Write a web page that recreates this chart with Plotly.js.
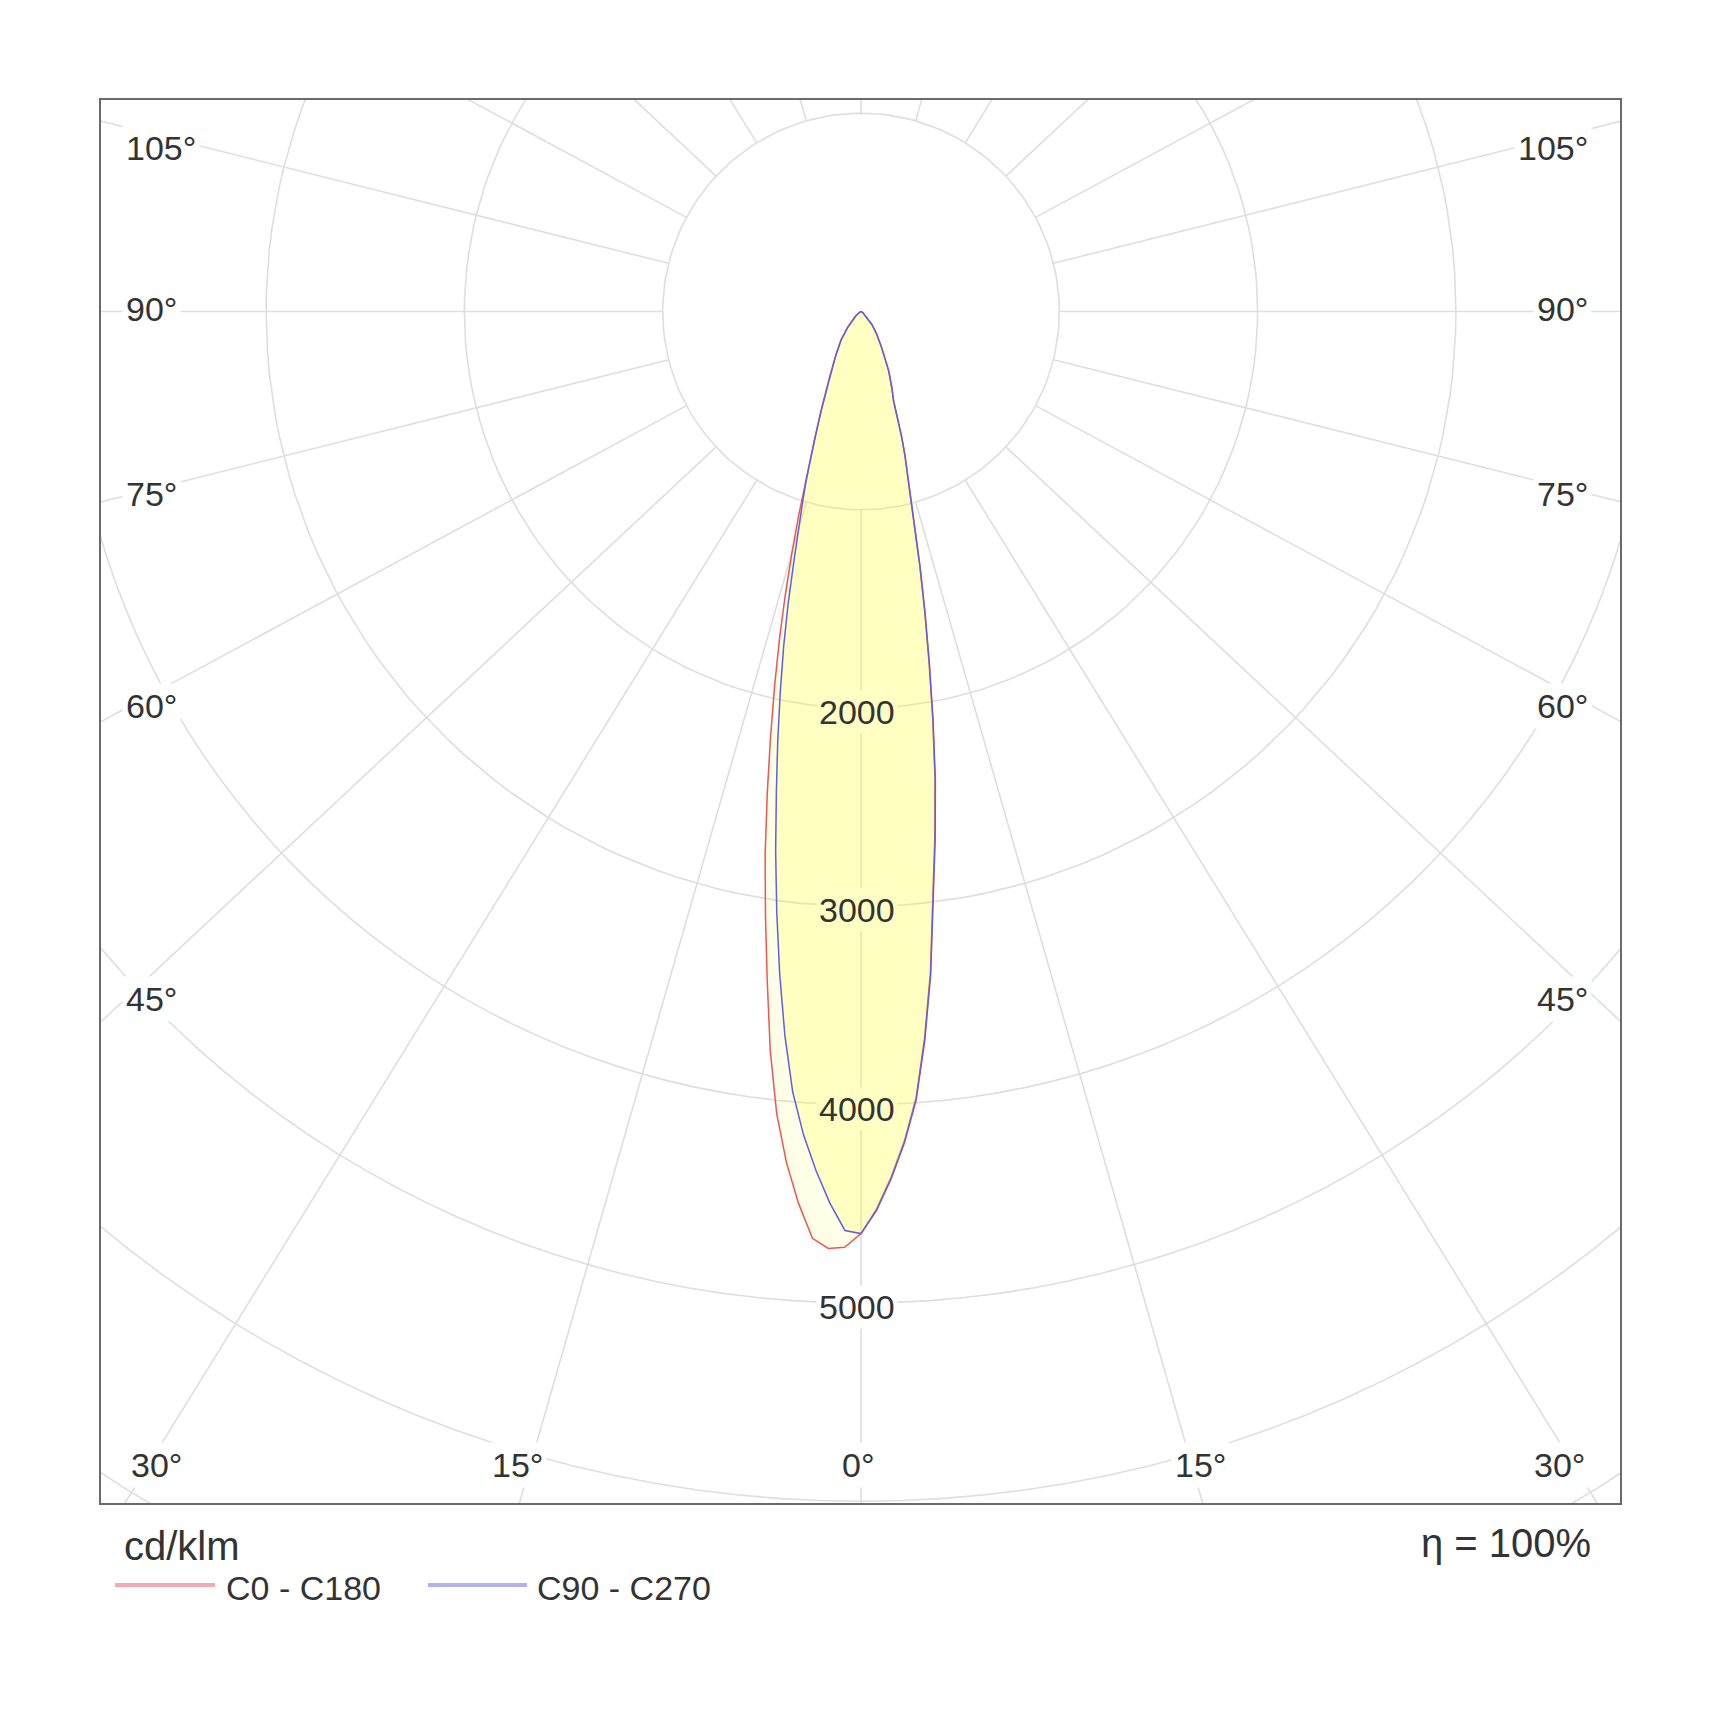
<!DOCTYPE html>
<html>
<head>
<meta charset="utf-8">
<script src="https://cdn.plot.ly/plotly-3.0.1.min.js"></script>
<style>
  body { margin: 0; background: #fff; }
  #chart { width: 1720px; height: 1720px; }
</style>
</head>
<body>
<div id="chart"></div>
<script>
// photometric polar diagram, cd/klm, gamma measured from the downward axis
var gammaDeg = [0, 1, 2, 3, 4, 5, 6, 7, 8, 9, 10, 11, 12, 13, 14, 15, 16, 17, 18, 20, 22, 25, 30, 35, 40, 50, 60, 70, 80, 90]

// C0 - C180 plane (C180 drawn on the left)
var c180 = [4650, 4720, 4728, 4680, 4510, 4310, 4067, 3755, 3400, 3080, 2785, 2478, 2195, 1936, 1698, 1471, 1260, 1074, 919, 680, 535, 385, 255, 176, 105, 35, 10, 0, 0, 0]
var c0 = [4650, 4526, 4367, 4188, 3977, 3678, 3349, 2982, 2674, 2385, 2082, 1796, 1545, 1320, 1109, 945, 850, 755, 660, 480, 415, 330, 205, 135, 85, 30, 10, 0, 0, 0]

// C90 - C270 plane (C270 drawn on the left)
var c270 = [4650, 4635, 4499, 4338, 4161, 3951, 3672, 3365, 3054, 2752, 2458, 2200, 1957, 1735, 1520, 1312, 1150, 1010, 895, 680, 530, 380, 252, 174, 103, 35, 10, 0, 0, 0]
var c90 = [4650, 4532, 4375, 4196, 3986, 3690, 3362, 2995, 2688, 2398, 2094, 1806, 1553, 1327, 1114, 950, 853, 758, 662, 481, 416, 331, 206, 136, 85, 30, 10, 0, 0, 0]

var ringValues = [1000, 2000, 3000, 4000, 5000, 6000, 7000]
var ringLabelValues = [2000, 3000, 4000, 5000]
var spokeAngles = [0, 15, 30, 45, 60, 75, 90, 105, 120, 135, 150, 165, 180]
var sideLabels = ['105°', '90°', '75°', '60°', '45°']
var bottomLabels = ['30°', '15°', '0°', '15°', '30°']
var planeNames = ['C0 - C180', 'C90 - C270']

var d2r = Math.PI / 180
var stretch = 1.07   // the spokes of the source drawing are a bit flattened sideways

// pixel helpers, only used to put the text where it sits in the picture
var CX = 861, CY = 311.5, PXU = 0.1983
function px2x(px) { return (px - CX) / PXU }
function py2y(py) { return (CY - py) / PXU }
function pxp(px) { return (px - 101) / 1519 }
function pyp(py) { return (1503 - py) / 1403 }

function planeXY(left, right) {
    var x = [], y = []
    for (var i = gammaDeg.length - 1; i >= 0; i--) {
        x.push(-left[i] * Math.sin(gammaDeg[i] * d2r))
        y.push(-left[i] * Math.cos(gammaDeg[i] * d2r))
    }
    for (var j = 1; j < gammaDeg.length; j++) {
        x.push(right[j] * Math.sin(gammaDeg[j] * d2r))
        y.push(-right[j] * Math.cos(gammaDeg[j] * d2r))
    }
    return { x: x, y: y }
}

// grid: circles + spokes starting on the first ring
var gx = [], gy = []
ringValues.forEach(function (r) {
    for (var a = 0; a <= 360; a += 2) {
        gx.push(r * Math.sin(a * d2r))
        gy.push(r * Math.cos(a * d2r))
    }
    gx.push(null); gy.push(null)
})
spokeAngles.forEach(function (phi) {
    var sides = (phi == 0 || phi == 180) ? [1] : [-1, 1]
    sides.forEach(function (s) {
        var dx = s * stretch * Math.sin(phi * d2r)
        var dy = -Math.cos(phi * d2r)
        var n = Math.sqrt(dx * dx + dy * dy)
        dx = dx / n; dy = dy / n
        gx.push(ringValues[0] * dx, 10000 * dx, null)
        gy.push(ringValues[0] * dy, 10000 * dy, null)
    })
})

var redPlane = planeXY(c180, c0)
var bluePlane = planeXY(c270, c90)

var traces = [
    { x: gx, y: gy, mode: 'lines', line: { color: '#dedede', width: 1.6 }, hoverinfo: 'skip', showlegend: false },
    {
        x: redPlane.x, y: redPlane.y, mode: 'lines', name: planeNames[0], fill: 'toself',
        fillcolor: 'rgba(255,255,0,0.09)', line: { color: 'rgb(238,85,85)', width: 1.5 }
    },
    {
        x: bluePlane.x, y: bluePlane.y, mode: 'lines', name: planeNames[1], fill: 'toself',
        fillcolor: 'rgba(255,255,0,0.16)', line: { color: 'rgb(95,95,228)', width: 1.5 }
    }
]

var labelFont = { family: 'Liberation Sans, Arial, sans-serif', size: 34, color: '#333' }
var bigFont = { family: 'Liberation Sans, Arial, sans-serif', size: 40, color: '#333' }

var annotations = []
var sideY = [148, 309, 494, 705.7, 999]
sideLabels.forEach(function (t, i) {
    annotations.push({ x: px2x(122), y: py2y(sideY[i]), text: t, showarrow: false, xanchor: 'left', yanchor: 'middle', font: labelFont, bgcolor: '#fff', borderpad: 3 })
    annotations.push({ x: px2x(1592), y: py2y(sideY[i]), text: t, showarrow: false, xanchor: 'right', yanchor: 'middle', font: labelFont, bgcolor: '#fff', borderpad: 3 })
})
var bottomX = [156.4, 517.5, 858.5, 1200, 1559]
bottomLabels.forEach(function (t, i) {
    annotations.push({ x: px2x(bottomX[i]), y: py2y(1465), text: t, showarrow: false, xanchor: 'center', yanchor: 'middle', font: labelFont, bgcolor: '#fff', borderpad: 3 })
})
ringLabelValues.forEach(function (v) {
    annotations.push({
        x: -20, y: -v - 20, text: String(v), showarrow: false, xanchor: 'center', yanchor: 'middle', font: labelFont,
        bgcolor: v < 4600 ? 'rgb(255,255,195)' : '#fff', borderpad: 2
    })
})
annotations.push({ xref: 'paper', yref: 'paper', x: pxp(121.7), y: pyp(1545.5), text: 'cd/klm', showarrow: false, xanchor: 'left', yanchor: 'middle', font: bigFont })
annotations.push({ xref: 'paper', yref: 'paper', x: pxp(1593.3), y: pyp(1542.7), text: 'η = 100%', showarrow: false, xanchor: 'right', yanchor: 'middle', font: bigFont })
annotations.push({ xref: 'paper', yref: 'paper', x: pxp(224), y: pyp(1587.9), text: planeNames[0], showarrow: false, xanchor: 'left', yanchor: 'middle', font: labelFont })
annotations.push({ xref: 'paper', yref: 'paper', x: pxp(535), y: pyp(1587.9), text: planeNames[1], showarrow: false, xanchor: 'left', yanchor: 'middle', font: labelFont })

var shapes = [
    { type: 'line', xref: 'paper', yref: 'paper', x0: pxp(115), x1: pxp(215), y0: pyp(1585), y1: pyp(1585), line: { color: '#f3a9ae', width: 4 } },
    { type: 'line', xref: 'paper', yref: 'paper', x0: pxp(428), x1: pxp(527), y0: pyp(1585), y1: pyp(1585), line: { color: '#b3b0ef', width: 4 } }
]

var layout = {
    width: 1720, height: 1720,
    margin: { l: 101, r: 100, t: 100, b: 217 },
    paper_bgcolor: '#fff', plot_bgcolor: '#fff',
    showlegend: false,
    xaxis: { range: [-3832.6, 3827.5], showgrid: false, zeroline: false, showticklabels: false, ticks: '', showline: true, mirror: true, linecolor: '#6a6a6a', linewidth: 2, fixedrange: true },
    yaxis: { range: [-6008.6, 1066.6], showgrid: false, zeroline: false, showticklabels: false, ticks: '', showline: true, mirror: true, linecolor: '#6a6a6a', linewidth: 2, fixedrange: true },
    annotations: annotations,
    shapes: shapes
}

Plotly.newPlot('chart', traces, layout, { staticPlot: true })
</script>
</body>
</html>
